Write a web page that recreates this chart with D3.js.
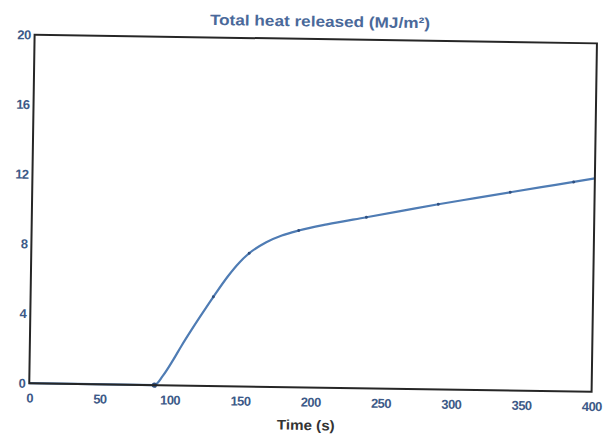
<!DOCTYPE html>
<html>
<head>
<meta charset="utf-8">
<script src="https://cdn.jsdelivr.net/npm/d3@7"></script>
<style>
  html, body { margin: 0; padding: 0; background: #fff; }
  svg { display: block; }
</style>
</head>
<body>
<svg id="chart" width="611" height="435"></svg>
<script>
// ---- data ----
const times  = [0, 89, 95, 102, 108, 114, 121, 130, 140, 148, 155, 167, 178, 190, 210, 238, 262, 289, 314, 340, 362, 385, 400];
const values = [0, 0, 0.55, 1.45, 2.3, 3.1, 4.0, 5.12, 6.3, 7.1, 7.65, 8.3, 8.7, 9.0, 9.38, 9.82, 10.2, 10.63, 11.0, 11.38, 11.7, 12.03, 12.25];
const markerTimes = [89, 130, 155, 190, 238, 289, 340, 385];
const xTicks = [0, 50, 100, 150, 200, 250, 300, 350, 400];
const yTicks = [0, 4, 8, 12, 16, 20];
const titleText = "Total heat released (MJ/m²)";
const xTitle = "Time (s)";

const data = times.map((t, i) => ({ t, v: values[i] }));

// ---- layout ----
const W = 611, H = 435;
const m = { left: 31.9, right: 611 - 594.3, top: 39.05, bottom: 435 - 387.55 };
const iw = W - m.left - m.right, ih = H - m.top - m.bottom;
const cx = 313.1, cy = 213.3, tilt = 0.88; // scanned page is slightly rotated

const svg = d3.select("#chart");
const root = svg.append("g").attr("transform", `rotate(${tilt},${cx},${cy})`);
const g = root.append("g").attr("transform", `translate(${m.left},${m.top})`);

const x = d3.scaleLinear().domain([0, 400]).range([0, iw]);
const y = d3.scaleLinear().domain([0, 20]).range([ih, 0]);

const labelColor = "#3d5a88";
const font = "'Liberation Sans', Arial, sans-serif";

// line
const line = d3.line().x(d => x(d.t)).y(d => y(d.v)).curve(d3.curveMonotoneX);
g.append("path").datum(data)
  .attr("d", line)
  .attr("fill", "none")
  .attr("stroke", "#4f7cb4")
  .attr("stroke-width", 2.2)
  .attr("stroke-linejoin", "round");

// small markers
g.selectAll("circle.mk").data(data.filter(d => markerTimes.includes(d.t)))
  .join("circle").attr("class", "mk")
  .attr("cx", d => x(d.t)).attr("cy", d => y(d.v))
  .attr("r", (d, i) => i === 0 ? 2.6 : 1.5)
  .attr("fill", "#2f4f7f");

// frame
g.append("rect").attr("x", 0).attr("y", 0).attr("width", iw).attr("height", ih)
  .attr("fill", "none").attr("stroke", "#262626").attr("stroke-width", 2);

// axes (labels only, no tick marks)
const xAxis = g.append("g").attr("transform", `translate(0,${ih})`)
  .call(d3.axisBottom(x).tickValues(xTicks).tickSize(0).tickPadding(10).tickFormat(d3.format("d")));
const yAxis = g.append("g")
  .call(d3.axisLeft(y).tickValues(yTicks).tickSize(0).tickPadding(4).tickFormat(d3.format("d")));
[xAxis, yAxis].forEach(a => {
  a.select(".domain").remove();
  a.selectAll("text")
    .attr("fill", labelColor)
    .style("font-family", font)
    .style("font-weight", "bold")
    .style("font-size", "13px")
    .style("letter-spacing", "-0.6px");
});

// titles
root.append("text")
  .attr("x", 317).attr("y", 26.5)
  .attr("text-anchor", "middle")
  .attr("fill", "#4a699a")
  .attr("textLength", 220).attr("lengthAdjust", "spacingAndGlyphs")
  .style("font-family", font).style("font-weight", "bold").style("font-size", "15px")
  .text(titleText);

root.append("text")
  .attr("x", 309).attr("y", 430)
  .attr("text-anchor", "middle")
  .attr("fill", "#333")
  .attr("textLength", 58).attr("lengthAdjust", "spacingAndGlyphs")
  .style("font-family", font).style("font-weight", "bold").style("font-size", "14px")
  .text(xTitle);
</script>
</body>
</html>
